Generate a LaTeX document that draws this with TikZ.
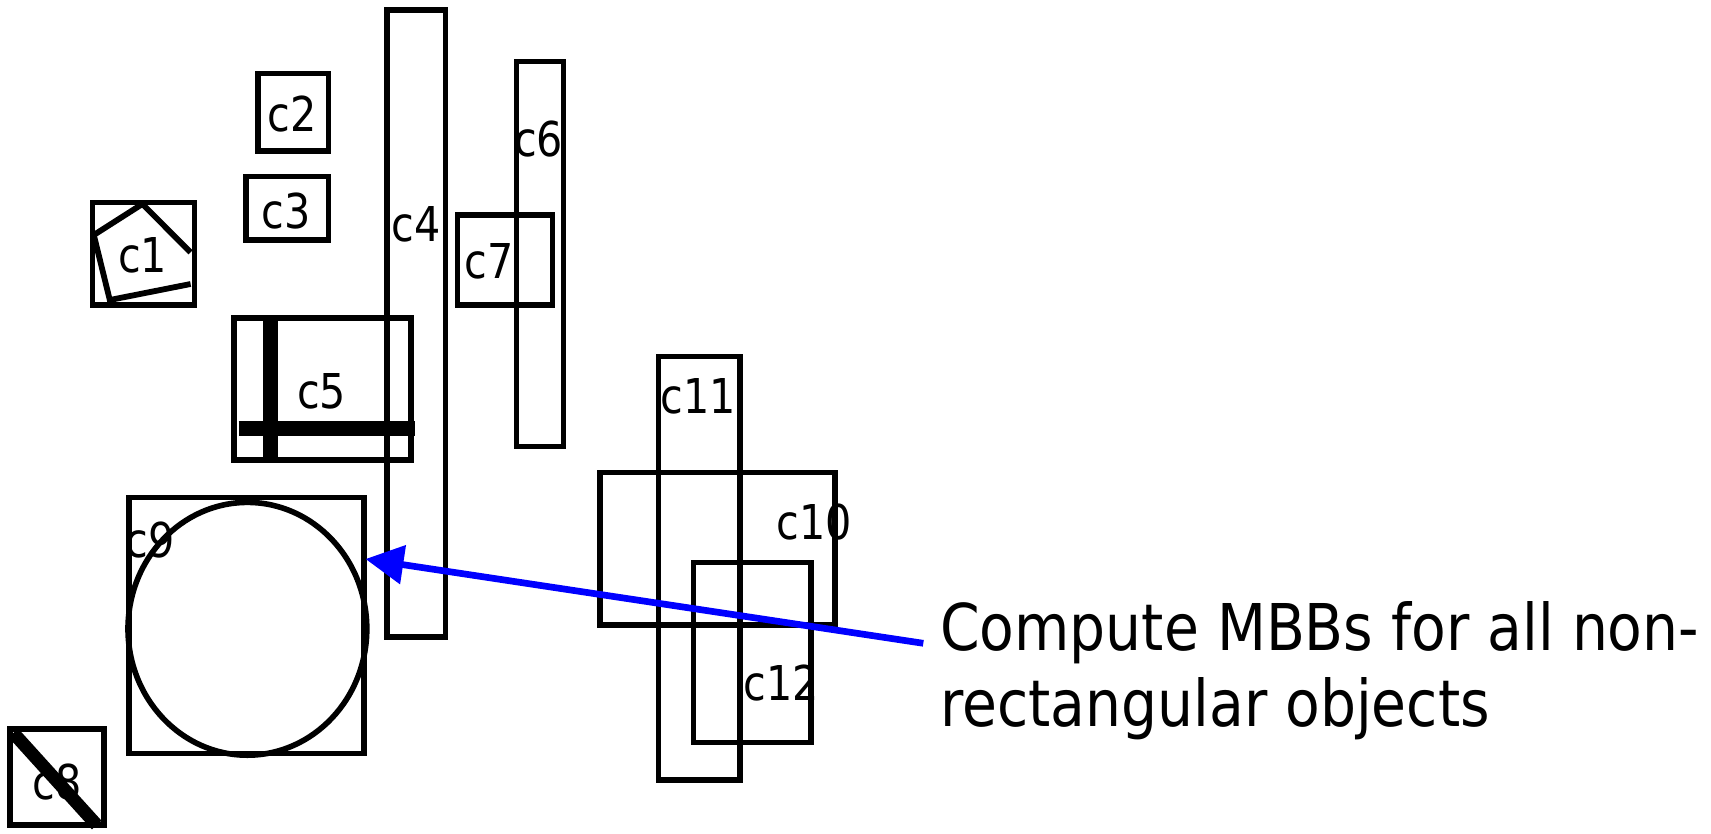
\documentclass[tikz,border=0pt]{standalone}
\usepackage{fontspec}
\setmainfont{DejaVu Sans}[FakeStretch=0.86]
\newfontfamily\msgfont{DejaVu Sans}[FakeStretch=0.88]
\usetikzlibrary{arrows.meta}
\begin{document}
\begin{tikzpicture}[x=1pt,y=-1pt,
  box/.style={draw=black,line width=5.6pt},
  thickbar/.style={draw=black,line width=15pt},
  lbl/.style={font=\fontsize{48}{48}\selectfont,inner sep=0pt,anchor=center},
  msgtext/.style={font=\msgfont\fontsize{64.5}{76.7}\selectfont,inner sep=0pt,anchor=base west},
  arr/.style={draw=blue,line width=6.7pt,-{Triangle[length=38pt,width=38pt]}}]
\useasboundingbox (0,0) rectangle (1711,833);
% rectangles
\draw[box] (387,9.8) rectangle (445.3,637);      % c4
\draw[box] (258,73.5) rectangle (328.5,150.8);   % c2
\draw[box] (246,176.5) rectangle (328.5,240.2);  % c3
\draw[box] (92.5,202.5) rectangle (194.5,305.2); % c1
\draw[box] (234,318.2) rectangle (410.8,459.8);  % c5
\draw[box] (516.5,61.5) rectangle (563.5,446.5); % c6
\draw[box] (457.5,214.8) rectangle (552.5,305.2);% c7
\draw[box] (128.8,497.5) rectangle (363.7,753.5);% c9
\draw[box] (9.7,729) rectangle (104,825);        % c8
\draw[box] (658.5,356.5) rectangle (740.2,780.2);% c11
\draw[box] (599.8,472.5) rectangle (834.8,625.2);% c10
\draw[box] (693.5,562.5) rectangle (810.8,742.5);% c12
% objects inside
\draw[line width=5.8pt] (190.6,252.3) -- (142.4,204) -- (93.8,235) -- (109.8,300) -- (190.6,284);
\draw[thickbar] (270.8,318) -- (270.8,460);
\draw[thickbar] (238.5,428.3) -- (415,428.3);
\draw[line width=5.6pt] (247.4,628.8) ellipse [x radius=119.4, y radius=126.4];
\draw[line width=13pt] (13.4,733) -- (96.7,825);
% labels
\node[lbl] (c2) at (292,114) {c2};
\node[lbl] (c3) at (286,211) {c3};
\node[lbl] (c1) at (142.5,255) {c1};
\node[lbl] (c4) at (416.4,224) {c4};
\node[lbl] (c5) at (321.5,391.5) {c5};
\node[lbl] (c6) at (538.6,139) {c6};
\node[lbl] (c7) at (489,261) {c7};
\node[lbl] (c9) at (150,540) {c9};
\node[lbl] (c8) at (57,781.7) {c8};
\node[lbl] (c11) at (698,396.7) {c11};
\node[lbl] (c10) at (814,521.7) {c10};
\node[lbl] (c12) at (781,682.7) {c12};
% message
\node[msgtext] (msg1) at (940,650) {Compute MBBs for all non-};
\node[msgtext] (msg2) at (940,726.7) {rectangular objects};
\coordinate (tail) at (923.3,643.3);
\coordinate (tip) at (365.5,559);
\draw[arr] (tail) -- (tip);
\end{tikzpicture}
\end{document}
